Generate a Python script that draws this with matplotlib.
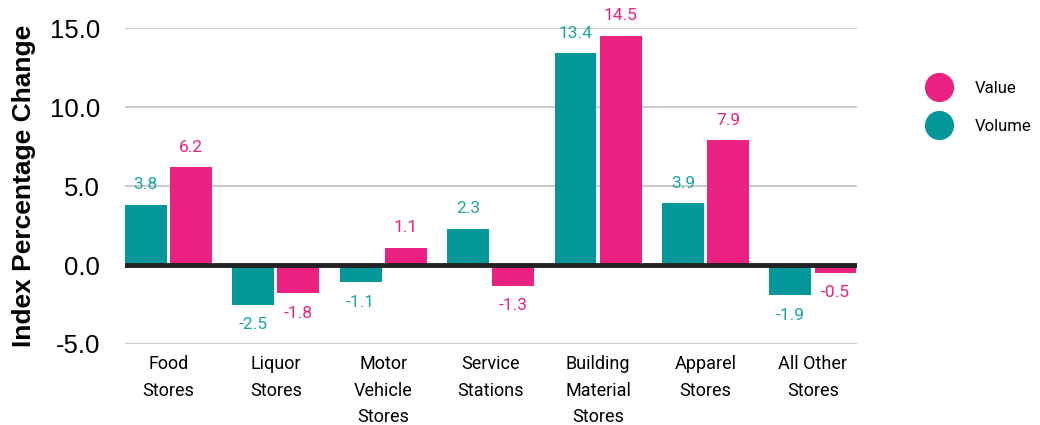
import numpy as np
import matplotlib.pyplot as plt
from matplotlib.lines import Line2D

categories = ["Food\nStores", "Liquor\nStores", "Motor\nVehicle\nStores", "Service\nStations",
              "Building\nMaterial\nStores", "Apparel\nStores", "All Other\nStores"]
volume = [3.8, -2.5, -1.1, 2.3, 13.4, 3.9, -1.9]
value = [6.2, -1.8, 1.1, -1.3, 14.5, 7.9, -0.5]

teal = "#03979A"
teal_txt = "#1AA5A6"
pink = "#EA2181"

fig = plt.figure(figsize=(10.4, 4.25), dpi=100)
ax = fig.add_axes([0.120, 0.1906, 0.704, 0.7434])

x = np.arange(len(categories))
w = 0.39
off = 0.21
b1 = ax.bar(x - off, volume, w, color=teal, zorder=2)
b2 = ax.bar(x + off, value, w, color=pink, zorder=2)

for bars, vals, c in [(b1, volume, teal_txt), (b2, value, pink)]:
    for r, v in zip(bars, vals):
        ax.annotate(f"{v:.1f}", (r.get_x() + r.get_width() / 2, v),
                    xytext=(0, 9 if v >= 0 else -9), textcoords="offset points",
                    ha="center", va="bottom" if v >= 0 else "top",
                    color=c, fontsize=12.5, family="Roboto")

ax.axhline(0, color="#222222", lw=3.5, zorder=3)
ax.set_ylim(-5, 15)
ax.set_xlim(-0.405, 6.41)
ax.set_yticks([-5, 0, 5, 10, 15])
ax.set_yticklabels([f"{t:.1f}" for t in [-5, 0, 5, 10, 15]], family="Liberation Sans", fontsize=18.5)
ax.yaxis.grid(True, color="#cccccc", lw=1.5, zorder=0)
ax.set_axisbelow(True)
ax.tick_params(length=0)
ax.tick_params(axis="y", pad=18)
ax.set_xticks(x)
ax.set_xticklabels(categories, family="Roboto", fontsize=13, linespacing=1.62)
ax.tick_params(axis="x", pad=8)
for s in ax.spines.values():
    s.set_visible(False)
ax.set_ylabel("Index Percentage Change", family="Liberation Sans", fontweight="bold", fontsize=19, labelpad=10)

handles = [Line2D([], [], marker="o", ls="", color=pink, markersize=20),
           Line2D([], [], marker="o", ls="", color=teal, markersize=20)]
fig.legend(handles, ["Value", "Volume"], loc="upper left", bbox_to_anchor=(0.872, 0.845),
           frameon=False, prop={"family": "Roboto", "size": 12}, handletextpad=1.2,
           labelspacing=1.4)

fig.savefig("out.png", dpi=100)
